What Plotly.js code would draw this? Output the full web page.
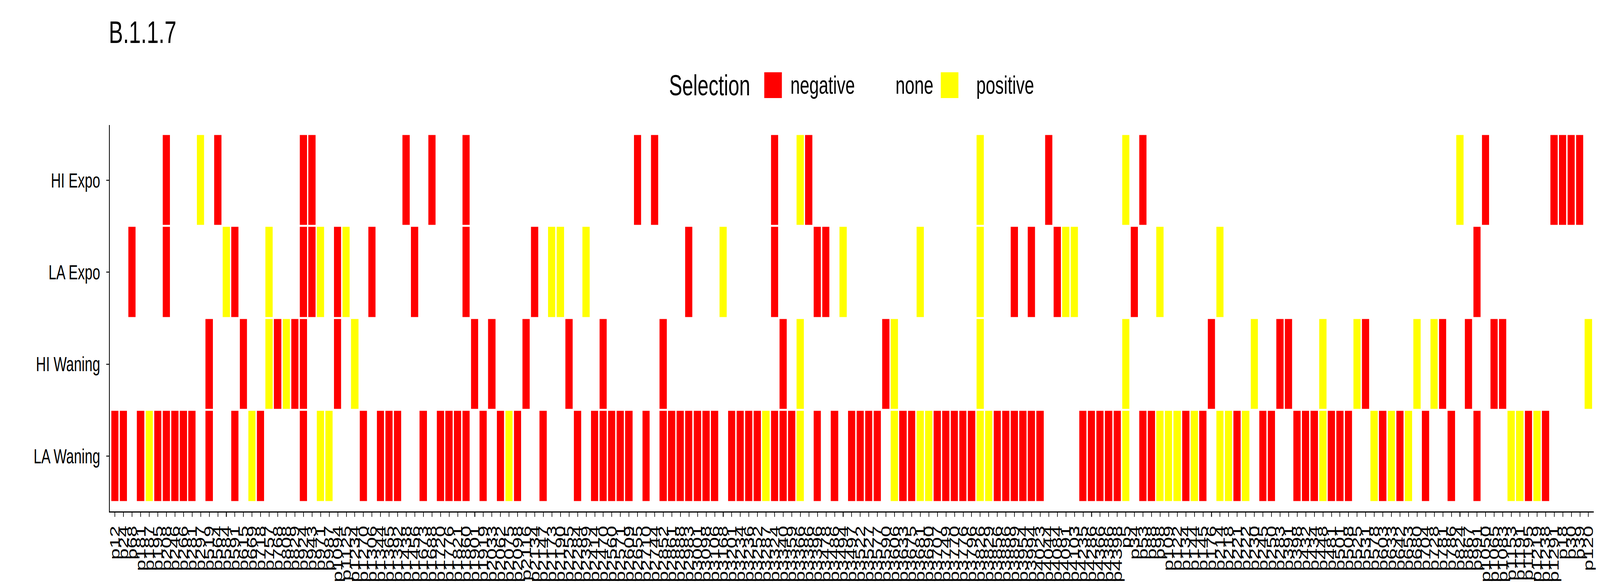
<!DOCTYPE html>
<html><head><meta charset="utf-8">
<script src="https://cdn.plot.ly/plotly-3.0.1.min.js"></script>
<style>html,body{margin:0;padding:0;background:#fff;overflow:hidden}
#chart{width:6000px;height:1500px;transform-origin:0 0}</style>
</head><body><div id="chart"></div>
<script>
// ---------------- data ----------------
const chartTitle = "B.1.1.7";
const legendTitle = "Selection";
const levels = ["negative", "none", "positive"];
const rowNames = ["HI Expo", "LA Expo", "HI Waning", "LA Waning"]; // top to bottom

const positions = [
  "p12","p24","p68",
  "p181","p187","p195","p208","p246","p266","p281","p297","p519","p564","p584","p591","p615","p669","p718","p757","p768","p808","p829","p924","p943","p971","p987",
  "p1094","p1125","p1234","p1270","p1306","p1344","p1365","p1392","p1438","p1456","p1673","p1688","p1720","p1776","p1821","p1860","p1901","p1919",
  "p2033","p2062","p2075","p2098","p2116","p2134","p2147","p2173","p2190","p2255","p2284","p2399","p2414","p2470",
  "p2560","p2571","p2609","p2655","p2710","p2744","p2852","p2861","p2888","p2983","p3001","p3098","p3106","p3168",
  "p3201","p3234","p3236","p3252","p3287","p3324","p3340","p3359","p3366","p3386","p3396","p3478","p3486","p3494","p3497",
  "p3522","p3527","p3577","p3590","p3606","p3633","p3675","p3681","p3690","p3707","p3749","p3770","p3776","p3796",
  "p3826","p3829","p3856","p3886","p3899","p3954","p3994","p4023","p4044","p4084","p4091","p4103","p4235","p4286","p4366","p4386","p4398",
  "p5",
  "p34","p53","p88","p98",
  "p109","p122","p134","p144","p145","p176",
  "p214","p218","p221","p222","p230","p245","p250","p283","p391","p398","p432","p434","p448","p481","p501","p508",
  "p525","p531","p578","p603","p633","p642","p653","p680","p704","p728","p781","p786","p824","p867","p991",
  "p1050","p1065","p1083","p1153","p1191","p1195","p1219","p1238","p1291",
  "p18","p30","p39",
  "p120"
];

// N = negative, P = positive, . = none (one character per position, groups of ten)
const hiExpo = (
  "......N..." + "P.N......." + "..NN......" + "....N..N.." + ".N........" +
  ".........." + ".N.N......" + ".......N.." + "PN........" + ".........." +
  ".P.......N" + "........P." + "N........." + ".........." + ".........." +
  ".......P.." + "N.......NN" + "NN."
).split("");
const laExpo = (
  "..N...N..." + "...PN...P." + "..NNP.NP.." + "N....N...." + ".N.......N" +
  ".PP..P...." + ".......N.." + ".P.....N.." + "..NN.P...." + "....P....." +
  ".P...N.N.." + "NPP......N" + "..P......P" + ".........." + ".........." +
  ".........N" + ".........." + "..."
).split("");
const hiWaning = (
  ".........." + ".N...N..PN" + "PNN...N.P." + ".........." + "..N.N...N." +
  "...N...N.." + "....N....." + "........N." + "P........." + "NP........" +
  ".P........" + "........P." + "........N." + "...P..NN.." + ".P...PN..." +
  "..P.PN..N." + ".NN......." + "..P"
).split("");
const laWaning = (
  "NN.NPNNNNN" + ".N..N.PN.." + "..N.PP...N" + ".NNN..N.NN" + "NN.N.NPN.." +
  "N...N.NNNN" + "N.N.NNNNNN" + "N.NNNNPNNN" + "P.N.N.NNNN" + ".PNNPPNNNN" +
  "NPPNNNNNN." + "...NNNNNP." + "NNPPPNPN.P" + "PNP.NN..NN" + "NPNNN..PNP" +
  "NP.N..N..N" + "...PPNPN.." + "..."
).split("");

// ---------------- styling ----------------
const RED = "#FF0000", YELLOW = "#FFFF00";
const FONT = "Liberation Sans, Arial, Helvetica, sans-serif";
const W = 6000, H = 1500;
const L = 412, R = 5976, T = 320, B = 1309;
const PX = p => (p - L) / (R - L);
const PY = p => (B - p) / (B - T);

const series = {"HI Expo": hiExpo, "LA Expo": laExpo, "HI Waning": hiWaning, "LA Waning": laWaning};
const code2z = {N: 0, P: 1, ".": null};
const yCats = rowNames.slice().reverse();
const z = yCats.map(r => series[r].map(c => code2z[c]));

const trace = {
  type: "heatmap",
  x: positions,
  y: yCats,
  z: z,
  zmin: 0, zmax: 1,
  colorscale: [[0, RED], [0.5, RED], [0.5, YELLOW], [1, YELLOW]],
  showscale: false,
  xgap: 5, ygap: 5,
  hoverinfo: "skip"
};

// manual legend (ggplot style horizontal legend)
const legY = 218, key = 66;
const legendKeyX = [2866, 3268, 3528];
const legendLabelX = [2962, 3356, 3659];
const legendColors = [RED, "#FFFFFF", YELLOW];
const shapes = [], annotations = [];
annotations.push({xref: "paper", yref: "paper", x: PX(2507), y: PY(legY), xanchor: "left", yanchor: "middle",
  text: legendTitle, showarrow: false, font: {family: FONT, size: 74, color: "#000"}});
levels.forEach((lv, k) => {
  shapes.push({type: "rect", xref: "paper", yref: "paper",
    x0: PX(legendKeyX[k]), x1: PX(legendKeyX[k] + key), y0: PY(legY + key / 2), y1: PY(legY - key / 2),
    fillcolor: legendColors[k], line: {width: 0}});
  annotations.push({xref: "paper", yref: "paper", x: PX(legendLabelX[k]), y: PY(legY), xanchor: "left", yanchor: "middle",
    text: lv, showarrow: false, font: {family: FONT, size: 64, color: "#000"}});
});

const layout = {
  width: W, height: H,
  margin: {l: L, r: W - R, t: T, b: H - B, pad: 0},
  paper_bgcolor: "#fff", plot_bgcolor: "#fff",
  font: {family: FONT, color: "#000"},
  title: {text: chartTitle, font: {family: FONT, size: 80, color: "#000"},
    xref: "container", yref: "container", x: 408 / W, xanchor: "left", y: 1 - 82 / H, yanchor: "middle"},
  xaxis: {type: "category", categoryorder: "array", categoryarray: positions,
    tickmode: "array", tickvals: positions, ticktext: positions,
    range: [-0.6, positions.length - 0.4], tickangle: -90,
    tickfont: {family: FONT, size: 52, color: "#000"},
    ticks: "outside", ticklen: 11, tickwidth: 3, tickcolor: "#333333",
    showline: true, linecolor: "#000", linewidth: 3, mirror: false,
    showgrid: false, zeroline: false, automargin: false, ticklabelstandoff: 2, fixedrange: true},
  yaxis: {type: "category", categoryorder: "array", categoryarray: yCats,
    range: [-0.6, 3.6],
    tickfont: {family: FONT, size: 52, color: "#000"},
    ticks: "outside", ticklen: 11, tickwidth: 3, tickcolor: "#333333",
    showline: true, linecolor: "#000", linewidth: 3,
    showgrid: false, zeroline: false, automargin: false, ticklabelstandoff: 12, fixedrange: true},
  shapes: shapes,
  annotations: annotations,
  showlegend: false
};

Plotly.newPlot("chart", [trace], layout, {staticPlot: true, displayModeBar: false}).then(() => {
  // the design is 6000x1500; fit it to the actual window if the window is smaller
  const sx = Math.min(1, window.innerWidth / W), sy = Math.min(1, window.innerHeight / H);
  if (sx !== 1 || sy !== 1) document.getElementById("chart").style.transform = "scale(" + sx + "," + sy + ")";
});
</script>
</body></html>
